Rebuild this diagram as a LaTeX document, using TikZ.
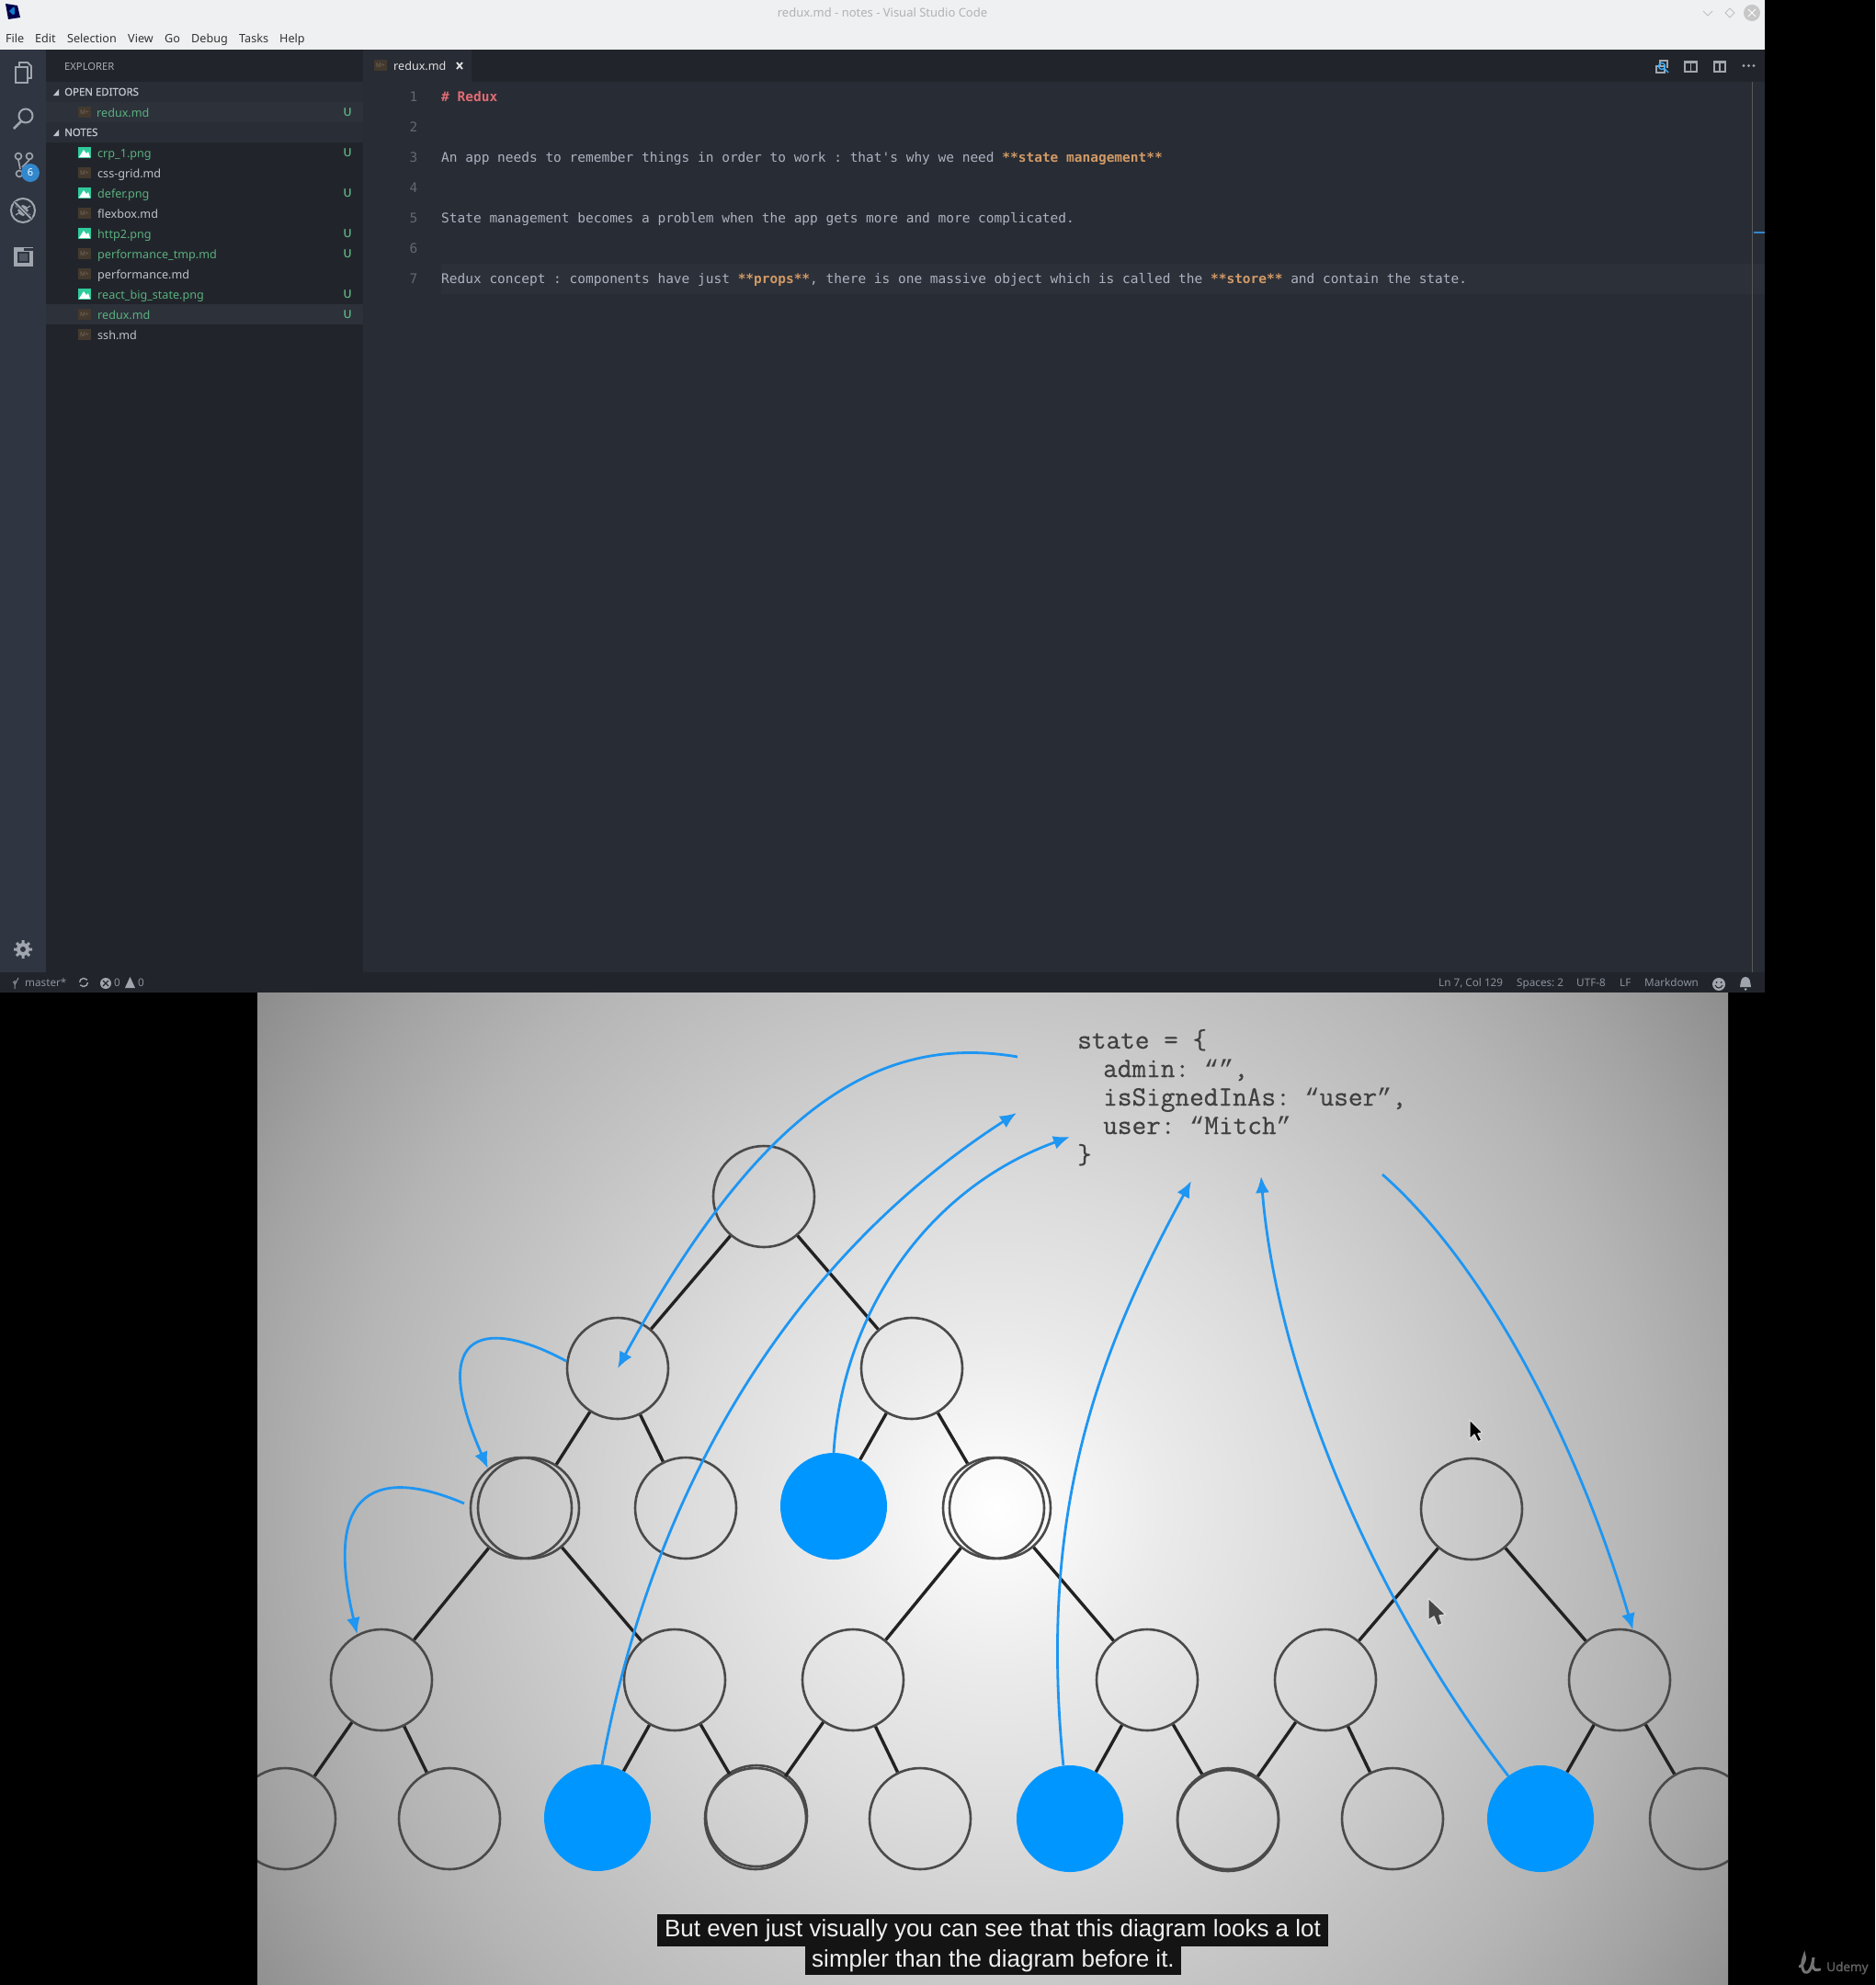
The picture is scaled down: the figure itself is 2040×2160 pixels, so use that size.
\documentclass[tikz,border=0pt]{standalone}
\usepackage{fontspec}
\usetikzlibrary{arrows.meta}
\setmainfont{Noto Sans}
\newfontfamily\codefont{DejaVu Sans Mono}
\newfontfamily\capfont{Liberation Sans}
\newfontfamily\headfont[FakeBold=1.2]{Noto Sans}
\newfontfamily\statefont[FakeBold=0.5]{Latin Modern Mono}
\newfontfamily\quotefont{Liberation Mono}
\newcommand{\oq}{{\quotefont\fontsize{27}{32}\selectfont “}}
\newcommand{\cq}{{\quotefont\fontsize{27}{32}\selectfont ”}}
\definecolor{titlebg}{HTML}{EFF0F1}
\definecolor{activitybg}{HTML}{2F3541}
\definecolor{sidebg}{HTML}{21252B}
\definecolor{editbg}{HTML}{282C34}
\definecolor{rowbg}{HTML}{2C313A}
\definecolor{linebg}{HTML}{2C3039}
\definecolor{gitgreen}{HTML}{5BB07F}
\definecolor{filetext}{HTML}{BFC4CC}
\definecolor{codetext}{HTML}{ABB2BF}
\definecolor{codeorange}{HTML}{D19A66}
\definecolor{codered}{HTML}{E06C75}
\definecolor{iconcol}{HTML}{A0A5AE}
\definecolor{statustext}{HTML}{8A919E}
\definecolor{arrowblue}{HTML}{1E96F2}
\definecolor{fillblue}{HTML}{0096FF}
\definecolor{ringcol}{HTML}{4A4A4A}
\definecolor{edgecol}{HTML}{222222}
\definecolor{mdbrown}{HTML}{43392F}
\definecolor{mdtext}{HTML}{7A6A55}
\definecolor{pngteal}{HTML}{2FCB9C}
\pgfdeclareradialshading{videobg}{\pgfpointorigin}{color(0bp)=(white);
  color(1.8bp)=(white!97!black); color(4.5bp)=(white!92!black);
  color(8.7bp)=(white!86!black); color(14bp)=(white!77!black);
  color(17.7bp)=(white!71!black); color(21bp)=(white!64!black);
  color(24.5bp)=(white!55!black); color(50bp)=(white!55!black)}
\tikzset{
  lbl/.style={inner sep=0pt, anchor=base west, font=\fontsize{12.6}{15}\selectfont},
  filelbl/.style={lbl, text=filetext},
  gitlbl/.style={lbl, text=gitgreen},
  headlbl/.style={lbl, text=filetext, font=\headfont\fontsize{11.4}{14}\selectfont},
  statlbl/.style={lbl, text=statustext, font=\fontsize{11.7}{14}\selectfont},
  codelbl/.style={inner sep=0pt, anchor=base west, text=codetext, font=\codefont\fontsize{14.48}{17}\selectfont},
  numlbl/.style={inner sep=0pt, anchor=base, text=codetext!45!editbg, font=\codefont\fontsize{14.48}{17}\selectfont},
  statelbl/.style={inner sep=0pt, anchor=base west, text=black!75, font=\statefont\fontsize{30.4}{32}\selectfont},
  caplbl/.style={fill=black!92, text=white!94!black, inner sep=0pt, font=\capfont\fontsize{26}{30}\selectfont},
  treenode/.style={circle, draw=ringcol, line width=2.6pt, minimum size=110pt, inner sep=0pt},
  bluenode/.style={circle, fill=fillblue, minimum size=116pt, inner sep=0pt},
  treeedge/.style={draw=edgecol, line width=3.4pt},
  flow/.style={draw=arrowblue, line width=2.8pt, -{Latex[length=18pt,width=15pt]}},
  loopflow/.style={flow},
  cursorshape/.style={draw=white!85!black, line width=1.4pt, line join=round}
}
\newcommand{\mdicon}[2]{\fill[mdbrown] (#1,#2-6) rectangle +(14,12);
  \node[inner sep=0pt, text=mdtext, font=\fontsize{6.5}{7}\selectfont\bfseries] at (#1+7,#2) {M+};}
\newcommand{\pngicon}[2]{\fill[pngteal] (#1,#2-6) rectangle +(14,12);
  \fill[white] (#1+1,#2+5) -- (#1+6,#2-3) -- (#1+9,#2+1) -- (#1+11,#2-1) -- (#1+13,#2+5) -- cycle;}
\begin{document}
\frenchspacing
\begin{tikzpicture}[x=1pt,y=-1pt]
\useasboundingbox (0,0) rectangle (2040,2160);
\fill[black] (0,0) rectangle (2040,2160);
% editor window
\fill[titlebg] (0,0) rectangle (1920,54);
\fill[editbg] (395,54) rectangle (1920,1058);
\fill[sidebg] (395,54) rectangle (1920,89);
\fill[editbg] (395,54) rectangle (513,89);
\fill[activitybg] (0,54) rectangle (50,1058);
\fill[sidebg] (50,54) rectangle (395,1058);
\fill[rowbg] (50,89) rectangle (395,155);
\fill[rowbg!70!sidebg] (50,89) rectangle (395,111);
\fill[rowbg!70!sidebg] (50,133) rectangle (395,155);
\fill[rowbg] (50,331) rectangle (395,353);
\fill[sidebg] (0,1058) rectangle (1920,1080);
\fill[linebg] (480,287) rectangle (1920,320);
\draw[black!60!editbg!70!white] (1906,89) -- (1906,1058);
\fill[blue!45!cyan!60!gray] (1908,252) rectangle (1920,254);
% title bar
\node[inner sep=0pt, text=black!30, font=\fontsize{13}{15}\selectfont] (wintitle) at (960,14) {redux.md - notes - Visual Studio Code};
\foreach \lab/\xx [count=\i] in {File/6,Edit/38,Selection/73,View/139,Go/179,Debug/208,Tasks/260,Help/304}
  \node[lbl, text=black!80] (menu\i) at (\xx,46) {\lab};
\fill[black!70!blue] (6,4) -- (19,6) -- (22,19) -- (9,21) -- cycle;
\fill[cyan!60!blue] (14,8) -- (16,8) -- (16,15) -- (14,16) -- (10,12) -- cycle;
\draw[black!25, line width=1pt] (1853,12) -- (1858,17) -- (1863,12);
\draw[black!25, line width=1pt] (1882,9) -- (1887,14) -- (1882,19) -- (1877,14) -- cycle;
\fill[black!22] (1906,14) circle [radius=9];
\draw[white, line width=1pt] (1902,10) -- (1910,18) (1910,10) -- (1902,18);
% activity bar
\draw[iconcol, line width=1.8pt] (17,73) rectangle (30,90);
\draw[iconcol, line width=1.8pt] (21,73) -- (21,68) -- (30,68) -- (34,72) -- (34,85) -- (30,85);
\draw[iconcol, line width=2pt] (28,126) circle [radius=7.5];
\draw[iconcol, line width=2.6pt] (23,132) -- (15,140);
\draw[iconcol, line width=1.6pt] (20,170) circle [radius=3.5] (32,170) circle [radius=3.5] (21,189) circle [radius=3.5];
\draw[iconcol, line width=1.6pt] (20,174) -- (22,184) (32,174) -- (24,182);
\fill[blue!45!cyan!60!gray] (33,188) circle [radius=10];
\node[inner sep=0pt, text=white, font=\fontsize{11}{12}\selectfont] (gitbadge) at (33,188) {6};
\draw[iconcol, line width=2pt] (25,229) circle [radius=13];
\fill[iconcol] (25,229) ellipse [x radius=5, y radius=6];
\draw[iconcol, line width=1.2pt] (17,224) -- (33,234) (17,234) -- (33,224) (19,229) -- (31,229);
\draw[activitybg, line width=3.6pt] (16,220) -- (34,238);
\draw[iconcol, line width=2pt] (16,220) -- (34,238);
\fill[iconcol] (15,269) rectangle (36,290);
\draw[activitybg, line width=1.6pt, fill=activitybg!70!iconcol] (20,275) rectangle (31,285);
\fill[activitybg] (26,270) rectangle (36,273);
\fill[iconcol] (25,1033) circle [radius=7];
\draw[iconcol, line width=3pt] (25,1023) -- (25,1043) (15,1033) -- (35,1033) (18,1026) -- (32,1040) (32,1026) -- (18,1040);
\fill[activitybg] (25,1033) circle [radius=3];
% sidebar
\node[lbl, text=filetext!85!sidebg, font=\fontsize{11.2}{14}\selectfont] (explorer) at (70,76) {EXPLORER};
\node[headlbl] (openeditors) at (70,104) {OPEN EDITORS};
\node[headlbl] (notes) at (70,148) {NOTES};
\fill[filetext] (58,104) -- (64,104) -- (64,97) -- cycle;
\fill[filetext] (58,148) -- (64,148) -- (64,141) -- cycle;
\mdicon{85}{122}
\node[gitlbl] (openfile) at (105,127) {redux.md};
\foreach \yy in {166,210,254,320} {\pngicon{85}{\yy}}
\foreach \yy in {188,232,276,298,342,364} {\mdicon{85}{\yy}}
\foreach \lab/\yy/\sty [count=\i] in {crp\_1.png/166/gitlbl,css-grid.md/188/filelbl,defer.png/210/gitlbl,flexbox.md/232/filelbl,http2.png/254/gitlbl,performance\_tmp.md/276/gitlbl,performance.md/298/filelbl,react\_big\_state.png/320/gitlbl,redux.md/342/gitlbl,ssh.md/364/filelbl}
  \node[\sty] (file\i) at (106,\yy+5) {\lab};
\foreach \yy [count=\i] in {122,166,210,254,276,320,342}
  \node[gitlbl, font=\headfont\fontsize{12}{14}\selectfont, anchor=base] (mark\i) at (378,\yy+4) {U};
% tab
\mdicon{407}{71}
\node[lbl, text=white!88!black] (tabname) at (428,76) {redux.md};
\draw[white!90!black, line width=1.8pt] (497,68) -- (503,75) (503,68) -- (497,75);
\draw[iconcol, line width=1.4pt] (1802,72) rectangle (1811,79);
\draw[iconcol, line width=1.4pt] (1806,72) -- (1806,66) -- (1814,66) -- (1814,74);
\draw[blue!40!cyan!80!white, line width=1.4pt] (1808,72) circle [radius=3.5] (1811,75) -- (1815,79);
\draw[iconcol, line width=1.4pt] (1833,67) rectangle (1846,78) (1839.5,67) -- (1839.5,78);
\fill[iconcol] (1833,66) rectangle (1846,69);
\draw[iconcol, line width=1.4pt] (1865,67) rectangle (1877,78) (1871,67) -- (1871,78);
\fill[iconcol] (1865,66) rectangle (1877,69);
\fill[iconcol] (1897,71.5) circle [radius=1.7] (1902.5,71.5) circle [radius=1.7] (1908,71.5) circle [radius=1.7];
% code
\foreach \num/\yy in {1/110,2/143,3/176,4/209,5/242,6/275,7/308}
  \node[numlbl] (num\num) at (450,\yy) {\num};
\node[codelbl, text=codered, font=\codefont\fontsize{14.48}{17}\selectfont\bfseries] (line1) at (480,110) {\# Redux};
\node[codelbl] (line3) at (480,176) {An app needs to remember things in order to work : that's why we need \textcolor{codeorange}{\bfseries **state management**}};
\node[codelbl] (line5) at (480,242) {State management becomes a problem when the app gets more and more complicated.};
\node[codelbl] (line7) at (480,308) {Redux concept : components have just \textcolor{codeorange}{\bfseries **props**}, there is one massive object which is called the \textcolor{codeorange}{\bfseries **store**} and contain the state.};
% status bar
\draw[statustext, line width=1pt] (16,1069) circle [radius=1.5] (16,1071) -- (16,1076) (20,1064) -- (16,1072);
\node[statlbl] (branch) at (27,1073) {master*};
\draw[iconcol, line width=1.4pt, dashed, dash pattern=on 11pt off 3pt] (91,1069) circle [radius=4.5];
\fill[iconcol] (115,1070) circle [radius=6];
\draw[sidebg, line width=1.2pt] (112,1067) -- (118,1073) (118,1067) -- (112,1073);
\node[statlbl] (errs) at (124,1073) {0};
\fill[iconcol] (141.5,1063) -- (147,1075) -- (136,1075) -- cycle;
\node[statlbl] (warns) at (150,1073) {0};
\foreach \lab/\xx [count=\i] in {{Ln 7, Col 129}/1565,{Spaces: 2}/1650,UTF-8/1715,LF/1762,Markdown/1789}
  \node[statlbl] (stat\i) at (\xx,1073) {\lab};
\fill[iconcol] (1870,1071) circle [radius=7];
\fill[sidebg] (1867.5,1069) circle [radius=1] (1872.5,1069) circle [radius=1];
\draw[sidebg, line width=1pt] (1866,1072) .. controls (1868,1076) and (1872,1076) .. (1874,1072);
\fill[iconcol] (1899,1063) .. controls (1904,1063) and (1904,1068) .. (1905,1074) -- (1893,1074) .. controls (1894,1068) and (1894,1063) .. (1899,1063);
\fill[iconcol] (1899,1076.5) circle [radius=1.5];
% video
\begin{scope}
\clip (280,1080) rectangle (1880,2160);
\shade[shading=videobg] (1084,1641) circle [radius=1000];
\node[treenode] (root) at (831,1302) {};
\node[treenode] (a) at (672,1489) {};
\node[treenode] (b) at (992,1489) {};
\node[treenode] (c) at (567,1641) {};
\node[treenode] (cb) at (575,1641) {};
\node[treenode] (d) at (746,1641) {};
\node[bluenode] (e) at (907,1639) {};
\node[treenode] (f) at (1088,1641) {};
\node[treenode] (fb) at (1081,1641) {};
\node[treenode] (g) at (1601,1642) {};
\foreach \nm/\xx in {p/415,q/734,r/928,s/1248,t/1442,u/1762}
  \node[treenode] (\nm) at (\xx,1828) {};
\foreach \nm/\xx in {k/310,l/489,n/822,o/1001,v/1336,w/1515,z/1850}
  \node[treenode] (\nm) at (\xx,1979) {};
\node[treenode] (nb) at (823,1976) {};
\node[treenode] (vb) at (1336,1981) {};
\node[bluenode] (m) at (650,1978) {};
\node[bluenode] (h) at (1164,1979) {};
\node[bluenode] (j) at (1676,1979) {};
\foreach \from/\to in {root/a,root/b,a/cb,a/d,b/e,b/fb,c/p,cb/q,fb/r,f/s,g/t,g/u,p/k,p/l,q/m,q/n,r/n,r/o,s/h,s/v,t/v,t/w,u/j,u/z}
  \draw[treeedge] (\from) -- (\to);
\end{scope}
\node[statelbl] (state1) at (1172,1141) {state = \{};
\node[statelbl] (state2) at (1200,1172) {admin: \oq\cq,};
\node[statelbl] (state3) at (1200,1203) {isSignedInAs: \oq user\cq,};
\node[statelbl] (state4) at (1200,1234) {user: \oq Mitch\cq};
\node[statelbl] (state5) at (1172,1266) {\}};
\coordinate (outa) at (1107,1150);
\coordinate (inb) at (1106,1211);
\coordinate (inc) at (1164,1237);
\coordinate (ind) at (1296,1285);
\coordinate (ine) at (1372,1280);
\coordinate (outf) at (1504,1278);
\coordinate (outc) at (505,1636);
\draw[flow] (outa) .. controls (960,1125) and (830,1200) .. (a.center);
\draw[flow] (m.85) .. controls (710,1620) and (860,1370) .. (inb);
\draw[flow] (e.north) .. controls (916,1433) and (1005,1295) .. (inc);
\draw[flow] (h.97) .. controls (1130,1650) and (1190,1480) .. (ind);
\draw[flow] (j.127) .. controls (1500,1750) and (1390,1500) .. (ine);
\draw[flow] (outf) .. controls (1620,1380) and (1720,1580) .. (u.75);
\draw[loopflow] (a.172) .. controls (533,1436) and (462,1442) .. (c.130);
\draw[loopflow] (outc) .. controls (428,1603) and (347,1603) .. (p.118);
% cursors
\filldraw[cursorshape, fill=black] (1599,1545) -- (1599,1566) -- (1604,1561) -- (1608,1569) -- (1612,1567) -- (1608,1560) -- (1613,1559) -- cycle;
\filldraw[cursorshape, fill=black!73] (1554,1739) -- (1554,1763) -- (1560,1759) -- (1564,1769) -- (1569,1767) -- (1566,1758) -- (1573,1757) -- cycle;
% caption
\node[caplbl, minimum width=730pt, minimum height=35pt] (capone) at (1080,2100.5) {But even just visually you can see that this diagram looks a lot};
\node[caplbl, minimum width=409pt, minimum height=31pt] (captwo) at (1080.5,2133.5) {simpler than the diagram before it.};
% logo
\draw[black!55, line width=3pt, line cap=round] (1958,2140) .. controls (1964,2136) and (1964,2130) .. (1963,2128) .. controls (1958,2140) and (1962,2150) .. (1968,2145) .. controls (1972,2140) and (1972,2134) .. (1973,2130) .. controls (1971,2140) and (1972,2146) .. (1980,2143);
\node[inner sep=0pt, anchor=base west, text=black!62, font=\headfont\fontsize{13.5}{16}\selectfont] (udemy) at (1987,2145) {Udemy};
\end{tikzpicture}
\end{document}
